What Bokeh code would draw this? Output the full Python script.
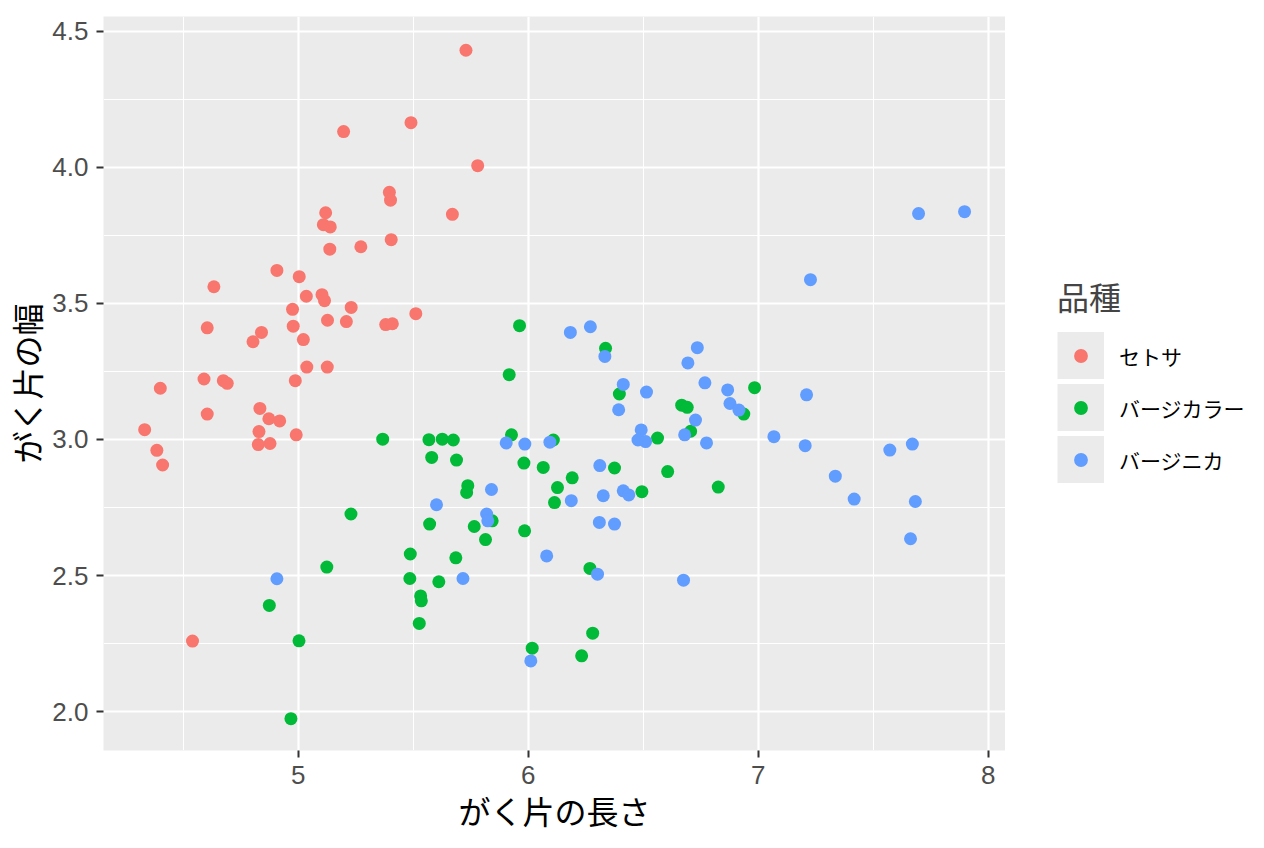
from bokeh.plotting import figure
from bokeh.models import (Range1d, FixedTicker, PrintfTickFormatter, Legend, LegendItem,
                          ColumnDataSource)
from bokeh.layouts import row
from bokeh.embed import file_html
from bokeh.resources import INLINE

species = ["セトサ", "バージカラー", "バージニカ"]
colors = ["#F8766D", "#00BA38", "#619CFF"]

setosa_x = [5.729, 5.490, 5.197, 5.780, 5.396, 5.401, 5.119, 5.670, 5.109, 5.139,
            5.404, 5.137, 5.272, 4.907, 5.004, 4.633, 5.035, 5.103, 5.114, 5.230,
            4.975, 5.511, 5.127, 5.209, 5.380, 5.409, 4.604, 4.840, 4.978, 4.803,
            5.022, 5.037, 5.126, 4.400, 4.590, 4.674, 4.691, 4.987, 4.604, 4.833,
            4.872, 4.919, 4.332, 4.829, 4.991, 4.826, 4.877, 4.385, 4.410, 4.540]
setosa_y = [4.430, 4.164, 4.131, 4.006, 3.908, 3.879, 3.833, 3.827, 3.789, 3.781,
            3.734, 3.699, 3.708, 3.621, 3.598, 3.561, 3.526, 3.532, 3.510, 3.485,
            3.478, 3.462, 3.438, 3.433, 3.422, 3.425, 3.410, 3.393, 3.416, 3.359,
            3.367, 3.266, 3.266, 3.188, 3.222, 3.216, 3.206, 3.216, 3.093, 3.114,
            3.076, 3.068, 3.036, 3.029, 3.017, 2.981, 2.985, 2.960, 2.906, 2.259]

versicolor_x = [5.962, 6.336, 5.917, 6.396, 6.984, 6.667, 6.691, 6.937, 6.706, 5.927,
                6.109, 6.562, 5.981, 6.065, 6.191, 6.375, 6.606, 6.127, 6.494, 6.826,
                6.114, 5.737, 5.732, 5.571, 5.765, 5.843, 5.814, 5.984, 5.487, 5.685,
                5.485, 5.611, 5.532, 5.535, 5.526, 6.268, 6.280, 6.017, 6.232, 5.367,
                5.568, 5.626, 5.674, 5.580, 5.688, 5.229, 5.124, 4.874, 5.003, 4.968]
versicolor_y = [3.418, 3.335, 3.238, 3.167, 3.190, 3.126, 3.118, 3.093, 3.030, 3.017,
                2.998, 3.005, 2.913, 2.897, 2.859, 2.895, 2.882, 2.823, 2.808, 2.825,
                2.768, 2.830, 2.805, 2.689, 2.680, 2.701, 2.632, 2.664, 2.579, 2.565,
                2.489, 2.477, 2.425, 2.407, 2.324, 2.526, 2.288, 2.233, 2.205, 3.001,
                2.999, 3.001, 2.998, 2.934, 2.924, 2.726, 2.531, 2.390, 2.260, 1.974]

virginica_x = [6.183, 6.270, 6.333, 6.735, 6.694, 6.413, 6.514, 6.768, 6.867, 6.877,
               6.916, 6.393, 6.727, 6.491, 6.477, 6.510, 6.680, 6.775, 7.068, 5.904,
               5.985, 6.094, 6.311, 5.840, 6.326, 6.413, 6.437, 6.187, 5.601, 5.819,
               5.824, 6.309, 6.375, 6.080, 5.716, 6.301, 6.011, 6.675, 4.907, 7.210,
               7.204, 7.572, 7.670, 7.335, 7.417, 7.683, 7.662, 7.227, 7.697, 7.897]
virginica_y = [3.393, 3.414, 3.305, 3.337, 3.281, 3.202, 3.174, 3.208, 3.182, 3.132,
               3.108, 3.109, 3.071, 3.035, 2.998, 2.992, 3.017, 2.987, 3.010, 2.987,
               2.983, 2.990, 2.904, 2.816, 2.793, 2.811, 2.796, 2.775, 2.760, 2.726,
               2.701, 2.695, 2.689, 2.572, 2.489, 2.505, 2.186, 2.483, 2.488, 3.164,
               2.977, 2.961, 2.983, 2.865, 2.781, 2.772, 2.635, 3.587, 3.830, 3.837]

x_ticks = [5, 6, 7, 8]
x_minor = [4.5, 5.5, 6.5, 7.5]
y_ticks = [2.0, 2.5, 3.0, 3.5, 4.0, 4.5]
y_minor = [2.25, 2.75, 3.25, 3.75, 4.25]

x_title = "がく片の長さ"
y_title = "がく片の幅"
legend_title = "品種"

JP = "Noto Sans CJK JP"
LAT = "Liberation Sans"

p = figure(frame_width=902, frame_height=734, output_backend="svg", toolbar_location=None,
           x_range=Range1d(4.153, 8.075), y_range=Range1d(1.857, 4.554),
           min_border_left=95, min_border_right=0, min_border_top=16, min_border_bottom=94)

p.background_fill_color = "#EBEBEB"
p.border_fill_color = "white"
p.outline_line_color = None

for ax in (p.xaxis[0], p.yaxis[0]):
    ax.axis_line_color = None
    ax.major_tick_line_color = "#333333"
    ax.major_tick_line_width = 2
    ax.major_tick_out = 7
    ax.major_tick_in = 0
    ax.minor_tick_line_color = None
    ax.major_label_text_font = LAT
    ax.major_label_text_font_size = "26px"
    ax.major_label_text_color = "#4D4D4D"
    ax.major_label_standoff = 8
    ax.axis_label_text_font = JP
    ax.axis_label_text_font_size = "32px"
    ax.axis_label_text_font_style = "normal"
    ax.axis_label_text_color = "black"
p.xaxis[0].axis_label_standoff = 0
p.yaxis[0].axis_label_standoff = 0

p.xaxis[0].ticker = FixedTicker(ticks=x_ticks, minor_ticks=x_minor)
p.yaxis[0].ticker = FixedTicker(ticks=y_ticks, minor_ticks=y_minor)
p.xaxis[0].formatter = PrintfTickFormatter(format="%d")
p.yaxis[0].formatter = PrintfTickFormatter(format="%.1f")
p.xaxis[0].axis_label = x_title
p.yaxis[0].axis_label = y_title

for g in (p.xgrid[0], p.ygrid[0]):
    g.grid_line_color = "white"
    g.grid_line_width = 2.2
    g.minor_grid_line_color = "white"
    g.minor_grid_line_width = 1.1

datasets = [(setosa_x, setosa_y), (versicolor_x, versicolor_y), (virginica_x, virginica_y)]
sources = []
for col, (xs, ys) in zip(colors, datasets):
    src = ColumnDataSource(dict(x=xs, y=ys))
    sources.append(src)
    p.scatter("x", "y", source=src, size=13, fill_color=col, line_color=None)

# legend figure placed to the right of the panel (its own ranges keep the data out of view)
lf = figure(width=245, height=844, output_backend="svg", toolbar_location=None,
            x_range=Range1d(0, 1), y_range=Range1d(0, 1), x_axis_type=None, y_axis_type=None,
            min_border_left=0, min_border_right=0, min_border_top=0, min_border_bottom=0)
lf.grid.visible = False
lf.outline_line_color = None
lf.background_fill_color = "white"
lf.border_fill_color = "white"

items = []
for name, col, src in zip(species, colors, sources):
    bg = lf.line("x", "y", source=src, line_color="#EBEBEB", line_width=48)
    # grey outline trims the key dot to the size of the panel's dots
    dot = lf.scatter("x", "y", source=src, size=13, fill_color=col,
                     line_color="#EBEBEB", line_width=5)
    items.append(LegendItem(label=name, renderers=[bg, dot]))

legend = Legend(items=items, location=(52, 267), title=legend_title,
                title_text_font=JP, title_text_font_size="32px", title_text_font_style="normal",
                title_standoff=13,
                label_text_font=JP, label_text_font_size="21px", label_text_color="black",
                label_standoff=15, glyph_width=47, glyph_height=47, label_height=47,
                spacing=5, padding=0, margin=0,
                border_line_color=None, background_fill_alpha=0)
lf.add_layout(legend, "center")

layout = row(p, lf)
open("out.html", "w").write(file_html(layout, INLINE))
